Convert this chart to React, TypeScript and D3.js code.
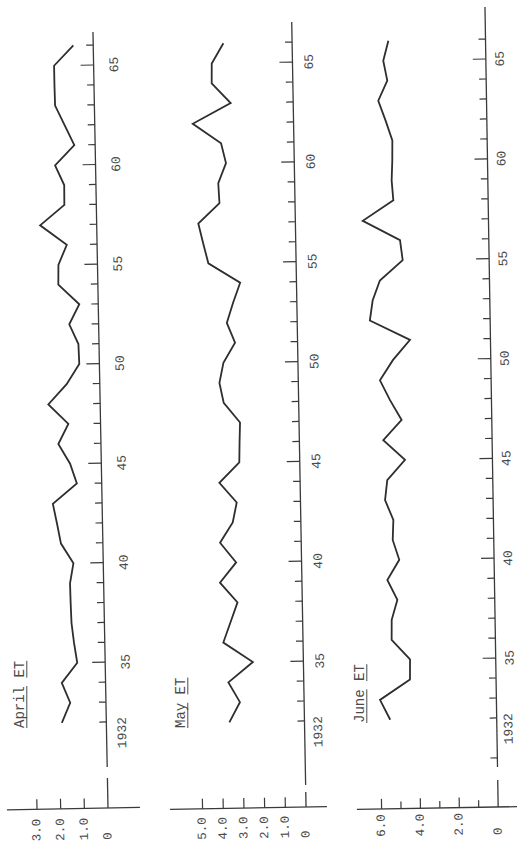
import React from "react";
import * as d3 from "d3";

// Years of record, bottom (1932) to top (1966)
const years = [
  1932, 1933, 1934, 1935, 1936, 1937, 1938, 1939, 1940, 1941, 1942, 1943,
  1944, 1945, 1946, 1947, 1948, 1949, 1950, 1951, 1952, 1953, 1954, 1955,
  1956, 1957, 1958, 1959, 1960, 1961, 1962, 1963, 1964, 1965, 1966,
];

// Monthly evapotranspiration (ET) totals, one value per year
const aprilET = [
  1.88, 1.51, 1.85, 1.18, 1.3, 1.39, 1.41, 1.42, 1.26, 1.77, 1.92, 2.08,
  1.05, 1.32, 1.8, 1.36, 2.19, 1.4, 0.85, 0.87, 1.24, 0.8, 1.67, 1.65,
  1.28, 2.39, 1.35, 1.34, 1.71, 0.88, 1.27, 1.66, 1.67, 1.67, 0.84,
];
const mayET = [
  3.63, 3.1, 3.64, 2.44, 3.85, 3.49, 3.13, 3.96, 3.16, 3.92, 3.29, 3.08,
  3.9, 2.92, 2.89, 2.85, 3.62, 3.81, 3.6, 3.02, 3.4, 3.08, 2.72, 4.24,
  4.47, 4.69, 3.65, 3.69, 3.3, 3.52, 4.87, 3.02, 3.92, 3.9, 3.32,
];
const juneET = [
  5.48, 5.99, 4.43, 4.41, 5.34, 5.32, 5.01, 5.51, 4.88, 5.2, 5.15, 5.56,
  5.43, 4.5, 5.6, 4.64, 5.22, 5.72, 5.04, 4.14, 6.19, 6.03, 5.64, 4.45,
  4.57, 6.47, 4.88, 4.95, 4.9, 4.88, 5.21, 5.57, 5.09, 5.28, 5.0,
];

// Axis tick values
const yearLabels = [1935, 1940, 1945, 1950, 1955, 1960, 1965];
const aprilTicks = [0, 1, 2, 3];
const mayTicks = [0, 1, 2, 3, 4, 5];
const juneTicks = [0, 1, 2, 3, 4, 5, 6];
const juneTickLabels = [0, 2, 4, 6];

type Panel = {
  title: string;
  values: number[];
  ticks: number[];
  labeled: number[];
  extraYearTicks: number[];
  pivotX: number;
  tilt: number;
  unit: number;
  yStart: number;
  yEnd: number;
  axisTop: number;
  axisBottom: number;
  baseY: number;
  zeroTop: number;
  vExtent: [number, number];
  labelBottom: number;
  yearLabelGap: number;
  firstYearGap: number;
  titleX: number;
  titleY: number;
};

const panels: Panel[] = [
  {
    title: "April ET",
    values: aprilET,
    ticks: aprilTicks,
    labeled: aprilTicks,
    extraYearTicks: [],
    pivotX: 100.5,
    tilt: 1.11,
    unit: 23.67,
    yStart: 722,
    yEnd: 45,
    axisTop: 32,
    axisBottom: 767,
    baseY: 808,
    zeroTop: 778,
    vExtent: [4.27, -1.35],
    labelBottom: 840,
    yearLabelGap: 21,
    firstYearGap: 16,
    titleX: 24.2,
    titleY: 728,
  },
  {
    title: "May ET",
    values: mayET,
    ticks: mayTicks,
    labeled: mayTicks,
    extraYearTicks: [],
    pivotX: 299.0,
    tilt: 1.045,
    unit: 20.7,
    yStart: 721,
    yEnd: 42,
    axisTop: 22,
    axisBottom: 785,
    baseY: 807,
    zeroTop: 792,
    vExtent: [6.57, -1.01],
    labelBottom: 838,
    yearLabelGap: 17,
    firstYearGap: 14,
    titleX: 185.2,
    titleY: 728,
  },
  {
    title: "June ET",
    values: juneET,
    ticks: juneTicks,
    labeled: juneTickLabels,
    extraYearTicks: [1930],
    pivotX: 491.8,
    tilt: 0.945,
    unit: 19.43,
    yStart: 718,
    yEnd: 39,
    axisTop: 7,
    axisBottom: 767,
    baseY: 807,
    zeroTop: 780,
    vExtent: [7.27, -0.97],
    labelBottom: 835,
    yearLabelGap: 14.5,
    firstYearGap: 12,
    titleX: 364.2,
    titleY: 723,
  },
];

const INK = "#2e2e2e";
const AXIS = "#3a3a3a";
const TEXT = "#4a4a4a";
const FONT = "'Liberation Mono', 'DejaVu Sans Mono', monospace";
const PIVOT_Y = 421;

function Title({ p }: { p: Panel }) {
  const size = 14;
  const cw = size * 0.6;
  const words = p.title.split(" ");
  let offset = 0;
  const underlines = words.map((w) => {
    const seg = { x1: offset * cw, x2: (offset + w.length) * cw };
    offset += w.length + 1;
    return seg;
  });
  return (
    <g transform={`translate(${p.titleX},${p.titleY}) rotate(-90)`}>
      <text x={0} y={0} fontSize={size} fill={TEXT} fontFamily={FONT}>
        {p.title}
      </text>
      {underlines.map((u, i) => (
        <line key={i} x1={u.x1} x2={u.x2} y1={2.6} y2={2.6} stroke={TEXT} strokeWidth={1} />
      ))}
    </g>
  );
}

function PanelView({ p }: { p: Panel }) {
  const x = d3.scaleLinear().domain([0, 1]).range([p.pivotX, p.pivotX - p.unit]);
  const y = d3
    .scaleLinear()
    .domain([years[0], years[years.length - 1]])
    .range([p.yStart, p.yEnd]);
  const path = d3
    .line<number>()
    .x((d) => x(d))
    .y((_, i) => y(years[i]))(p.values);

  const yearTicks = [...p.extraYearTicks, ...years];

  return (
    <g>
      <g transform={`rotate(${-p.tilt} ${p.pivotX} ${PIVOT_Y})`}>
        {/* time axis */}
        <line x1={p.pivotX} x2={p.pivotX} y1={p.axisTop} y2={p.axisBottom} stroke={AXIS} strokeWidth={1.3} />
        {yearTicks.map((yr) => {
          const major = yr % 5 === 0 && yr !== 1930;
          const len = major ? 13 : 7;
          return (
            <line
              key={yr}
              x1={p.pivotX - len}
              x2={p.pivotX}
              y1={y(yr)}
              y2={y(yr)}
              stroke={AXIS}
              strokeWidth={1.2}
            />
          );
        })}
        {yearLabels.map((yr) => (
          <text
            key={yr}
            transform={`translate(${p.pivotX + p.yearLabelGap},${y(yr)}) rotate(-90)`}
            textAnchor="middle"
            dominantBaseline="central"
            fontSize={13}
            fill={TEXT}
            fontFamily={FONT}
          >
            {String(yr).slice(2)}
          </text>
        ))}
        <text
          transform={`translate(${p.pivotX + p.firstYearGap},${y(years[0]) + 11}) rotate(-90)`}
          textAnchor="middle"
          dominantBaseline="central"
          fontSize={13}
          fill={TEXT}
          fontFamily={FONT}
        >
          {years[0]}
        </text>

        {/* value axis */}
        <line x1={x(p.vExtent[0])} x2={x(p.vExtent[1])} y1={p.baseY} y2={p.baseY} stroke={AXIS} strokeWidth={1.3} />
        <line x1={x(0)} x2={x(0)} y1={p.zeroTop} y2={p.baseY} stroke={AXIS} strokeWidth={1.3} />
        {p.ticks
          .filter((v) => v !== 0)
          .map((v) => {
            const len = p.labeled.includes(v) ? 10 : 7;
            return (
              <line key={v} x1={x(v)} x2={x(v)} y1={p.baseY - len} y2={p.baseY} stroke={AXIS} strokeWidth={1.2} />
            );
          })}
        {p.labeled.map((v) => (
          <text
            key={v}
            transform={`translate(${x(v)},${p.labelBottom}) rotate(-90)`}
            textAnchor="start"
            dominantBaseline="central"
            fontSize={12.5}
            fill={TEXT}
            fontFamily={FONT}
          >
            {v === 0 ? "0" : v.toFixed(1)}
          </text>
        ))}

        {/* ET series */}
        <path d={path ?? ""} fill="none" stroke={INK} strokeWidth={1.8} strokeLinejoin="miter" />
      </g>
      <Title p={p} />
    </g>
  );
}

export default function App() {
  return (
    <svg
      width={518}
      height={843}
      style={{ position: "absolute", left: 0, top: 0, background: "#fff" }}
    >
      <rect width={518} height={843} fill="#fff" />
      {panels.map((p) => (
        <PanelView key={p.title} p={p} />
      ))}
    </svg>
  );
}
